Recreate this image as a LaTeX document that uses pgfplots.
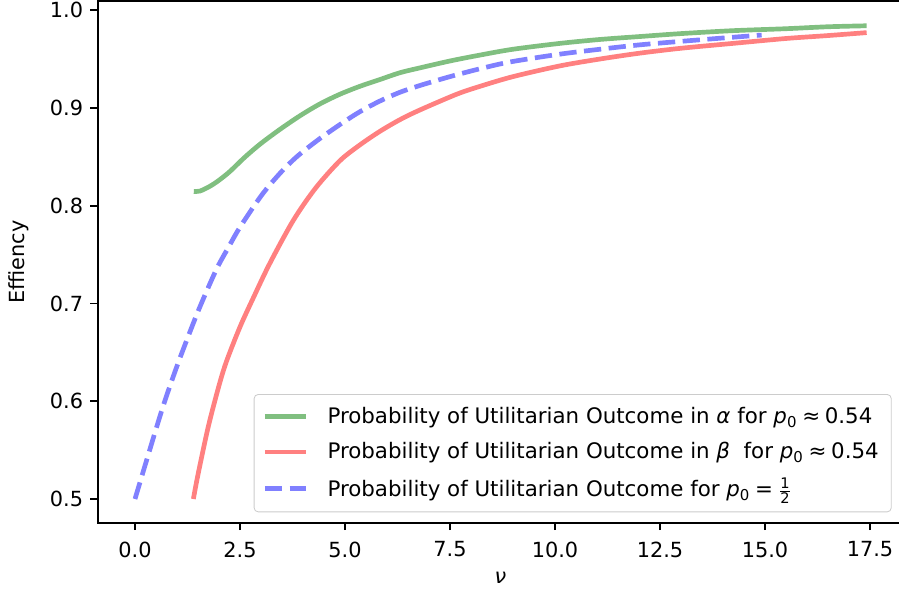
\documentclass[border=0pt]{standalone}
\usepackage{fontspec}
\setmainfont{DejaVu Sans}
\usepackage{pgfplots}
\pgfplotsset{compat=1.18}
\definecolor{cg}{HTML}{80BF80}
\definecolor{cr}{HTML}{FF8080}
\definecolor{cb}{HTML}{8080FF}
\begin{document}
\begin{tikzpicture}
\begin{axis}[
  scale only axis, width=386.6pt, height=250.4pt,
  xmin=-0.888, xmax=18.29, ymin=0.4757, ymax=1.0093,
  xtick={0,2.5,5,7.5,10,12.5,15,17.5},
  ytick={0.5,0.6,0.7,0.8,0.9,1.0},
  /pgf/number format/assume math mode=true,
  xticklabel style={/pgf/number format/.cd, fixed, fixed zerofill, precision=1, /tikz/.cd, yshift=-2pt},
  yticklabel style={/pgf/number format/.cd, fixed, fixed zerofill, precision=1},
  ticklabel style={font=\fontsize{10}{12}\selectfont},
  tick align=outside, tick pos=left, major tick length=3.5pt,
  tick style={line width=0.8pt, black},
  axis line style={line width=0.8pt},
  xlabel={\textit{ν}}, ylabel={Effiency},
  label style={font=\fontsize{10}{12}\selectfont},
  xlabel style={at={(axis description cs:0.5,0)}, anchor=center, yshift=-26.5pt},
  ylabel style={at={(axis description cs:-0.0978,0.5)}, anchor=center},
  legend style={at={(1,0)}, anchor=south east, xshift=-5.5pt, yshift=5pt,
    font=\fontsize{10.25}{12}\selectfont, draw=black!20, rounded corners=2pt,
    inner xsep=4pt, inner ysep=4pt, row sep=3.6pt,
    /tikz/every odd column/.append style={column sep=7pt}},
  legend cell align=left,
  legend image code/.code={\draw[#1] (0pt,0pt) -- (20pt,0pt);},
]
\addplot[cg, line width=2.25pt, smooth] coordinates {
(1.40,0.8145) (1.55,0.8150) (1.79,0.820) (2.0,0.826) (2.26,0.835) (2.6,0.849)
(2.98,0.863) (3.45,0.878) (3.93,0.892) (4.4,0.904) (4.88,0.914) (5.35,0.922)
(5.83,0.929) (6.31,0.936) (6.79,0.941) (7.5,0.948) (8.21,0.954) (9.0,0.960)
(10.12,0.966) (11.07,0.970) (12.02,0.973) (13.0,0.976) (14.24,0.979) (15.5,0.981)
(16.5,0.983) (17.42,0.984)};
\addlegendentry{Probability of Utilitarian Outcome in \textit{α} for \textit{p}\textsubscript{0}\hspace{0.22em}≈\hspace{0.22em}0.54}
\addplot[cr, line width=2.25pt, smooth] coordinates {
(1.39,0.5) (1.5,0.525) (1.745,0.574) (2.0,0.616) (2.18,0.641) (2.5,0.676)
(2.82,0.706) (3.21,0.741) (3.77,0.785) (4.3,0.818) (4.88,0.846) (5.35,0.862)
(5.83,0.876) (6.31,0.888) (6.79,0.898) (7.66,0.914) (8.21,0.922) (9.0,0.932)
(10.12,0.943) (11.07,0.950) (12.02,0.956) (13.0,0.961) (14.24,0.966) (15.5,0.971)
(16.5,0.974) (17.42,0.977)};
\addlegendentry{Probability of Utilitarian Outcome in \textit{β}\ \ for \textit{p}\textsubscript{0}\hspace{0.22em}≈\hspace{0.22em}0.54}
\addplot[cb, line width=2.25pt, smooth, dash pattern=on 8.3pt off 3.6pt] coordinates {
(0,0.5) (0.3,0.543) (0.67,0.595) (1.0,0.636) (1.3,0.670) (1.55,0.697)
(1.94,0.735) (2.22,0.757) (2.5,0.778) (3.02,0.811) (3.45,0.833) (3.85,0.850)
(4.35,0.867) (4.88,0.883) (5.35,0.896) (5.83,0.907) (6.31,0.916) (6.79,0.923)
(7.5,0.932) (8.21,0.940) (8.93,0.947) (10.12,0.955) (11.07,0.960) (12.02,0.9645)
(12.98,0.968) (14.0,0.9715) (14.92,0.9745)};
\addlegendentry{Probability of Utilitarian Outcome for \textit{p}\textsubscript{0}\hspace{0.22em}=\hspace{0.22em}$\frac{\mbox{\scriptsize 1}}{\mbox{\scriptsize 2}}$}
\end{axis}
\pgfresetboundingbox
\path[use as bounding box] ([shift={(-46.9pt,-36.6pt)}]current axis.south west) rectangle ++(431.5pt,287.5pt);
\end{tikzpicture}
\end{document}
